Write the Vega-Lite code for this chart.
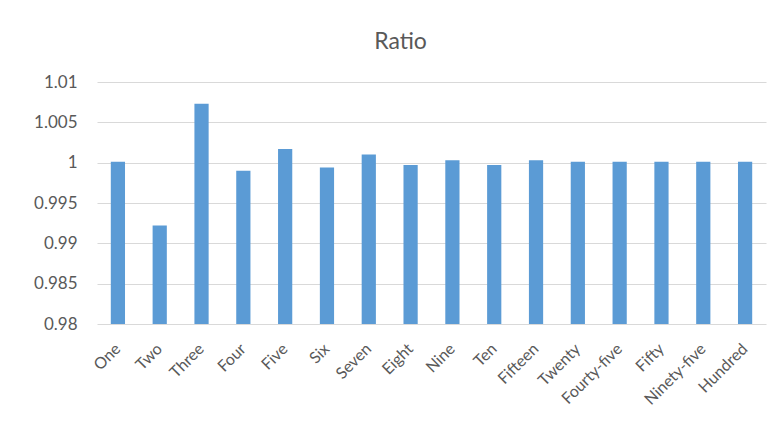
{
  "$schema": "https://vega.github.io/schema/vega-lite/v6.json",
  "width": 669,
  "height": 242,
  "autosize": {"type": "none"},
  "padding": {"left": 97, "top": 82, "right": 13, "bottom": 106},
  "background": "white",
  "title": {
    "text": "Ratio",
    "anchor": "middle",
    "frame": "group",
    "dx": -31,
    "dy": 32,
    "offset": 33,
    "baseline": "alphabetic",
    "font": "Lato",
    "fontSize": 23,
    "fontWeight": "normal",
    "color": "#595959"
  },
  "data": {
    "values": [
      {"label": "One", "ratio": 1.0001},
      {"label": "Two", "ratio": 0.9922},
      {"label": "Three", "ratio": 1.0073},
      {"label": "Four", "ratio": 0.9990},
      {"label": "Five", "ratio": 1.0017},
      {"label": "Six", "ratio": 0.9994},
      {"label": "Seven", "ratio": 1.0010},
      {"label": "Eight", "ratio": 0.9997},
      {"label": "Nine", "ratio": 1.0003},
      {"label": "Ten", "ratio": 0.9997},
      {"label": "Fifteen", "ratio": 1.0003},
      {"label": "Twenty", "ratio": 1.0001},
      {"label": "Fourty-five", "ratio": 1.0001},
      {"label": "Fifty", "ratio": 1.0001},
      {"label": "Ninety-five", "ratio": 1.0001},
      {"label": "Hundred", "ratio": 1.0001}
    ]
  },
  "mark": {"type": "bar", "color": "#5B9BD5", "clip": true},
  "encoding": {
    "x": {
      "field": "label",
      "type": "nominal",
      "sort": null,
      "scale": {"paddingInner": 0.66, "paddingOuter": 0.33},
      "axis": {
        "title": null,
        "domain": false,
        "ticks": false,
        "labelAngle": -45,
        "labelAlign": "right",
        "labelBaseline": "middle",
        "labelPadding": 22,
        "labelFont": "Lato",
        "labelFontSize": 16,
        "labelColor": "#595959"
      }
    },
    "y": {
      "field": "ratio",
      "type": "quantitative",
      "scale": {"domain": [0.98, 1.01], "zero": false, "nice": false},
      "axis": {
        "title": null,
        "domain": false,
        "ticks": false,
        "values": [0.98, 0.985, 0.99, 0.995, 1, 1.005, 1.01],
        "format": "~g",
        "labelPadding": 20,
        "labelFont": "Lato",
        "labelFontSize": 17,
        "labelColor": "#595959",
        "gridColor": "#D9D9D9",
        "gridWidth": 1
      }
    }
  },
  "config": {"view": {"stroke": null}}
}
